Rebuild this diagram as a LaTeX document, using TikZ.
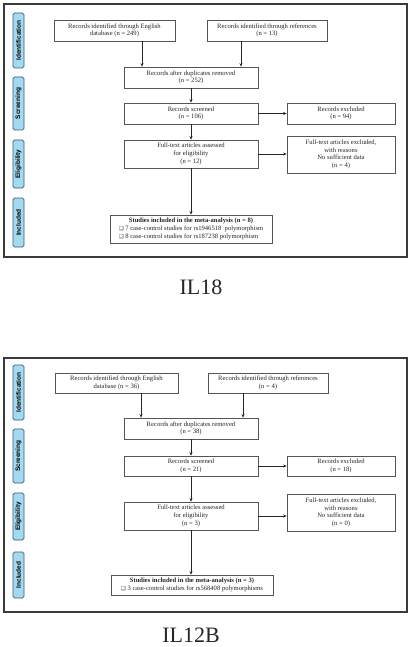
\documentclass[tikz,border=0pt]{standalone}
\usepackage{fontspec}
\setmainfont{Liberation Serif}
\newfontfamily\labfont{Liberation Sans}
\newfontfamily\symfont{DejaVu Sans}
\usetikzlibrary{arrows.meta,calc}
\definecolor{framegray}{HTML}{3A3A3A}
\definecolor{boxgray}{HTML}{555555}
\definecolor{labfill}{HTML}{A4DAEF}
\definecolor{labedge}{HTML}{3C5A78}
\newcommand{\chk}{{\symfont\fontsize{5.5}{6}\selectfont\char"2751}}
\tikzset{
  frame/.style={draw=framegray,line width=1.2pt},
  fbox/.style={draw=boxgray,line width=0.7pt,fill=white,inner sep=1pt,align=center,
    font=\fontsize{6.6}{7.7}\selectfont,text=black!85},
  side/.style={draw=labedge,fill=labfill,rounded corners=1.6pt,line width=0.7pt,rotate=90,
    minimum height=11pt,inner sep=0pt,font=\labfont\bfseries\fontsize{6.5}{7}\selectfont},
  arr/.style={line width=0.8pt,black!85,-{Stealth[length=3.5pt,width=3pt]}},
  title/.style={font=\fontsize{22}{24}\selectfont,text=black!85}
}
\begin{document}
\begin{tikzpicture}[x=1pt,y=-1pt]
\useasboundingbox[fill=white] (0,0) rectangle (411,647);
% ---------------- IL18 ----------------
\node[frame,minimum width=403pt,minimum height=253pt,inner sep=0pt] (F1) at (205.5,130.5) {};
\node[side,minimum width=55pt] (S1a) at (18.5,40.5) {Identification};
\node[side,minimum width=53pt] (S1b) at (18.5,103.5) {Screening};
\node[side,minimum width=48pt] (S1c) at (18.5,164) {Eligibility};
\node[side,minimum width=49pt] (S1d) at (18.5,222.5) {Included};
\node[fbox,minimum width=121pt,minimum height=21pt] (A1) at (114.5,30.5) {Records identified through English\\database (n = 249)};
\node[fbox,minimum width=120pt,minimum height=21pt] (A2) at (267,30.5) {Records identified through references\\(n = 13)};
\node[fbox,minimum width=134pt,minimum height=21pt] (A3) at (191,77.5) {Records after duplicates removed\\(n = 252)};
\node[fbox,minimum width=134pt,minimum height=21pt] (A4) at (191,113.5) {Records screened\\(n = 106)};
\node[fbox,minimum width=108pt,minimum height=21pt] (A5) at (341,113.5) {Records excluded\\(n = 94)};
\node[fbox,minimum width=134pt,minimum height=28pt] (A6) at (191,154) {Full-text articles assessed\\for eligibility\\(n = 12)};
\node[fbox,minimum width=108pt,minimum height=37pt] (A7) at (341,154.5) {Full-text articles excluded,\\with reasons\\No sufficient data\\(n = 4)};
\node[fbox,minimum width=162pt,minimum height=28pt,font=\fontsize{6.6}{8.3}\selectfont] (A8) at (191,229)
  {\begin{tabular}{@{}l@{}}\multicolumn{1}{c}{\bfseries Studies included in the meta-analysis (n = 8)}\\ \chk\ 7 case-control studies for rs1946518\ \ polymorphism\\ \chk\ 8 case-control studies for rs187238 polymorphism\end{tabular}};
\draw[arr] ([xshift=27.5pt]A1.south) -- ([xshift=27.5pt]A1.south |- A3.north);
\draw[arr] ([xshift=-26pt]A2.south) -- ([xshift=-26pt]A2.south |- A3.north);
\draw[arr] (A3.south) -- (A4.north);
\draw[arr] (A4.east) -- (A5.west);
\draw[arr] (A4.south) -- (A6.north);
\draw[arr] (A6.east) -- (A6.east -| A7.west);
\draw[arr] (A6.south) -- (A8.north);
\node[title] (T1) at (201,287) {IL18};
% ---------------- IL12B ----------------
\node[frame,minimum width=403pt,minimum height=254pt,inner sep=0pt] (F2) at (205.5,485) {};
\node[side,minimum width=55pt] (S2a) at (18.5,392.5) {Identification};
\node[side,minimum width=54pt] (S2b) at (18.5,456) {Screening};
\node[side,minimum width=47pt] (S2c) at (18.5,516.5) {Eligibility};
\node[side,minimum width=46pt] (S2d) at (18.5,575) {Included};
\node[fbox,minimum width=123pt,minimum height=20pt] (B1) at (116.5,383) {Records identified through English\\database (n = 36)};
\node[fbox,minimum width=120pt,minimum height=20pt] (B2) at (268,383) {Records identified through references\\(n = 4)};
\node[fbox,minimum width=134pt,minimum height=21pt] (B3) at (191,428.5) {Records after duplicates removed\\(n = 38)};
\node[fbox,minimum width=134pt,minimum height=20pt] (B4) at (191,466) {Records screened\\(n = 21)};
\node[fbox,minimum width=108pt,minimum height=20pt] (B5) at (341,466) {Records excluded\\(n = 18)};
\node[fbox,minimum width=134pt,minimum height=28pt] (B6) at (191,516) {Full-text articles assessed\\for eligibility\\(n = 3)};
\node[fbox,minimum width=108pt,minimum height=37pt] (B7) at (341,512.5) {Full-text articles excluded,\\with reasons\\No sufficient data\\(n = 0)};
\node[fbox,minimum width=162pt,minimum height=20pt,font=\fontsize{6.6}{8.3}\selectfont] (B8) at (192,585)
  {\begin{tabular}{@{}l@{}}\multicolumn{1}{c}{\bfseries Studies included in the meta-analysis (n = 3)}\\ \chk\ 3 case-control studies for rs568408 polymorphisms\end{tabular}};
\draw[arr] ([xshift=24.5pt]B1.south) -- ([xshift=24.5pt]B1.south |- B3.north);
\draw[arr] ([xshift=-25pt]B2.south) -- ([xshift=-25pt]B2.south |- B3.north);
\draw[arr] (B3.south) -- (B4.north);
\draw[arr] (B4.east) -- (B5.west);
\draw[arr] (B4.south) -- (B6.north);
\draw[arr] (B6.east) -- (B6.east -| B7.west);
\draw[arr] (B6.south) -- (B6.south |- B8.north);
\node[title] (T2) at (191,635) {IL12B};
\end{tikzpicture}
\end{document}
